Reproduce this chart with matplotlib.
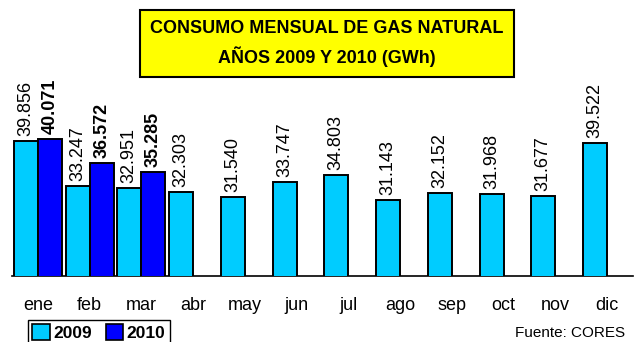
import matplotlib
matplotlib.use("Agg")
import matplotlib.pyplot as plt
from matplotlib.patches import Patch
import numpy as np

plt.rcParams['font.family'] = ['Liberation Sans', 'DejaVu Sans']

months = ["ene", "feb", "mar", "abr", "may", "jun", "jul", "ago", "sep", "oct", "nov", "dic"]
gwh_2009 = [39.856, 33.247, 32.951, 32.303, 31.540, 33.747, 34.803, 31.143, 32.152, 31.968, 31.677, 39.522]
gwh_2010 = [40.071, 36.572, 35.285]
labels_2009 = ["39.856", "33.247", "32.951", "32.303", "31.540", "33.747", "34.803", "31.143", "32.152", "31.968", "31.677", "39.522"]
labels_2010 = ["40.071", "36.572", "35.285"]
series_names = ["2009", "2010"]

c2009 = "#00CCFF"
c2010 = "#0000FF"

W, H = 637, 342
fig = plt.figure(figsize=(W / 100, H / 100), dpi=100)
ax = fig.add_axes([12 / W, (H - 275.7) / H, (633 - 12) / W, 272.2 / H])

x = np.arange(len(months))
bw = 0.465
ax.bar(x - bw / 2, gwh_2009, width=bw, color=c2009, edgecolor="black", linewidth=1.4, zorder=3)
x10 = x[:len(gwh_2010)]
ax.bar(x10 + bw / 2, gwh_2010, width=bw, color=c2010, edgecolor="black", linewidth=1.4, zorder=3)

for xi, v, s in zip(x, gwh_2009, labels_2009):
    ax.text(xi - bw / 2, v + 0.7, s, rotation=90, ha="center", va="bottom",
            fontsize=13, color="black", clip_on=False)
for xi, v, s in zip(x10, gwh_2010, labels_2010):
    ax.text(xi + bw / 2, v + 0.7, s, rotation=90, ha="center", va="bottom",
            fontsize=13, fontweight="bold", color="black", clip_on=False)

ax.set_xlim(-0.5, len(months) - 0.5)
ax.set_ylim(20, 60)
ax.set_xticks(x)
ax.set_xticklabels(months, fontsize=13)
ax.tick_params(axis="x", length=0, pad=15)
ax.set_yticks([])
for side in ["left", "right", "top"]:
    ax.spines[side].set_visible(False)
ax.spines["bottom"].set_linewidth(1.2)
ax.patch.set_alpha(0)

# title box
fig.text(327 / W, 1 - 43.5 / H, "CONSUMO MENSUAL DE GAS NATURAL\nAÑOS 2009 Y 2010 (GWh)",
         ha="center", va="center", fontsize=13, fontweight="bold", linespacing=1.6,
         bbox=dict(boxstyle="square,pad=0.55", facecolor="#FFFF00", edgecolor="black", linewidth=1.5))

handles = [Patch(facecolor=c2009, edgecolor="black", linewidth=1.2),
           Patch(facecolor=c2010, edgecolor="black", linewidth=1.2)]
leg = fig.legend(handles, series_names, loc="upper left", bbox_to_anchor=(28 / W, 1 - 320 / H),
                 ncol=2, frameon=True, fancybox=False, edgecolor="black", framealpha=1,
                 prop={"weight": "bold", "size": 12.5}, handlelength=1.0, handleheight=1.0,
                 handletextpad=0.2, columnspacing=0.8, borderpad=0.25, borderaxespad=0)
leg.get_frame().set_linewidth(1.0)

fig.text(625 / W, 1 - 333 / H, "Fuente: CORES", ha="right", va="center", fontsize=11)

fig.savefig("out.png", dpi=100)
